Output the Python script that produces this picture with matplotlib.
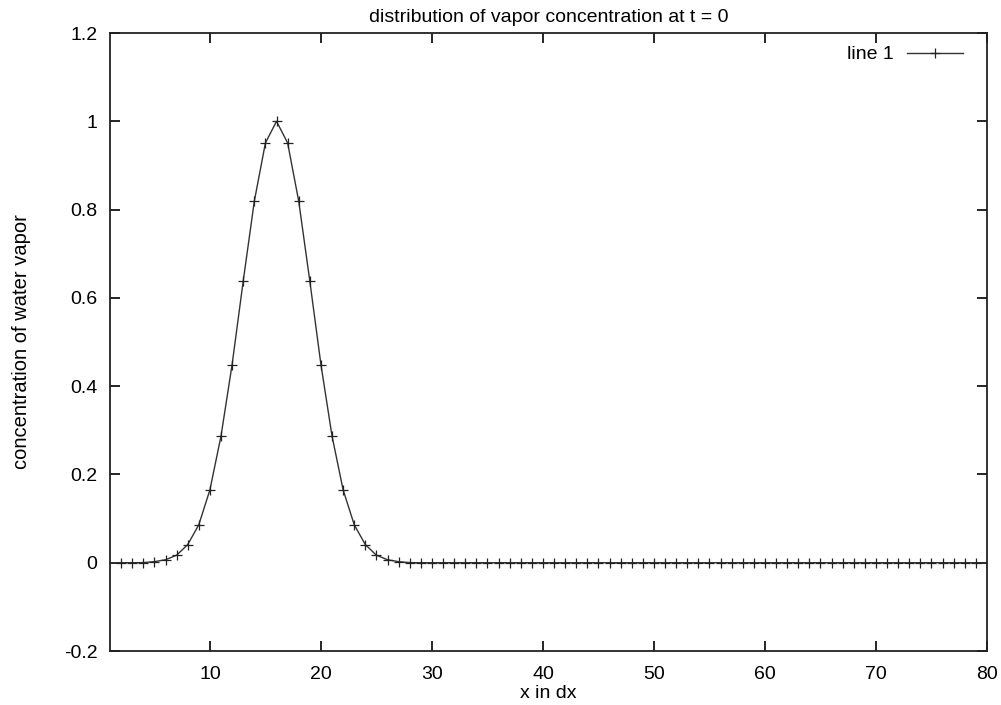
import matplotlib
matplotlib.use("Agg")
import matplotlib.pyplot as plt
from matplotlib.ticker import FuncFormatter

x_vals = list(range(1, 81))
peak_vals = [0.0, 0.0, 0.0, 0.0003, 0.0024, 0.0067, 0.017, 0.041, 0.086, 0.165,
             0.287, 0.449, 0.638, 0.819, 0.951, 1.0, 0.951, 0.819, 0.638, 0.449,
             0.287, 0.165, 0.086, 0.041, 0.017, 0.0067, 0.0024, 0.0003]
y_vals = peak_vals + [0.0] * (len(x_vals) - len(peak_vals))

x_ticks = [10, 20, 30, 40, 50, 60, 70, 80]
y_ticks = [-0.2, 0, 0.2, 0.4, 0.6, 0.8, 1.0, 1.2]

plt.rcParams['font.family'] = ['Liberation Sans', 'DejaVu Sans']

fig = plt.figure(figsize=(10.01, 7.05), dpi=100)
ax = fig.add_axes([110/1001, 1-651/705, (987-110)/1001, (651-33)/705])

ax.plot(x_vals, y_vals, color='#333333', lw=1.0, marker='+', ms=7, mew=0.9,
        mec='#222222', markevery=slice(1, len(x_vals)-1), label='line 1')

ax.set_xlim(1, 80)
ax.set_ylim(-0.2, 1.2)
ax.set_xticks(x_ticks)
ax.set_yticks(y_ticks)
ax.yaxis.set_major_formatter(FuncFormatter(lambda v, p: '%g' % round(v, 6)))
ax.tick_params(axis='both', direction='in', top=True, right=True, length=7, width=1.2,
               labelsize=14, colors='black')
ax.tick_params(axis='y', pad=9)
ax.tick_params(axis='x', pad=11)
for s in ax.spines.values():
    s.set_linewidth(1.3)
    s.set_color('#222222')

ax.set_title('distribution of vapor concentration at t = 0', fontsize=14, pad=8)
ax.set_xlabel('x in dx', fontsize=14, labelpad=1)
ax.set_ylabel('concentration of water vapor', fontsize=14.5, labelpad=24)

leg = ax.legend(loc='upper right', bbox_to_anchor=(0.9818, 0.992), borderaxespad=0,
                frameon=False, fontsize=14, handlelength=2.9, handletextpad=0.7,
                markerfirst=False)

fig.savefig('out.png', dpi=100)
